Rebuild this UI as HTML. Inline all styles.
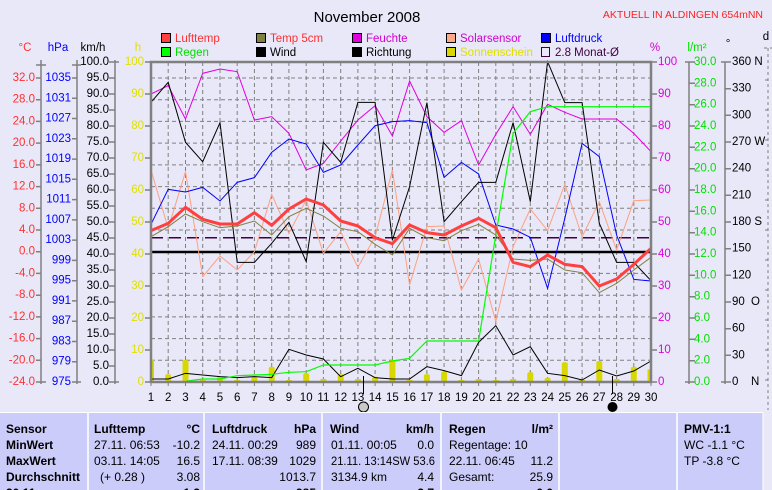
<!DOCTYPE html>
<html><head><meta charset="utf-8"><style>
html,body{margin:0;padding:0;background:#e8e8f8;}
svg{display:block;font-family:"Liberation Sans",sans-serif;}
.nss{vector-effect:non-scaling-stroke;fill:none;}
</style></head><body>
<svg width="772" height="490" viewBox="0 0 772 490" xmlns="http://www.w3.org/2000/svg">
<rect width="772" height="490" fill="#e8e8f8"/>
<text x="367" y="22" font-size="15" text-anchor="middle" fill="#000">November 2008</text>
<text x="763" y="18" font-size="10.5" text-anchor="end" fill="#ff2020">AKTUELL IN ALDINGEN 654mNN</text>

<g font-size="11.5">
<rect x="161.5" y="33.5" width="9" height="9" fill="#ff4040" stroke="#000"/><text x="175" y="42" fill="#ff3030">Lufttemp</text>
<rect x="256.5" y="33.5" width="9" height="9" fill="#808040" stroke="#000"/><text x="270" y="42" fill="#ff3030">Temp 5cm</text>
<rect x="352.5" y="33.5" width="9" height="9" fill="#e000e0" stroke="#000"/><text x="366" y="42" fill="#d000d0">Feuchte</text>
<rect x="446.5" y="33.5" width="9" height="9" fill="#ffa888" stroke="#000"/><text x="460" y="42" fill="#d000d0">Solarsensor</text>
<rect x="541.5" y="33.5" width="9" height="9" fill="#0000ff" stroke="#000"/><text x="555" y="42" fill="#0000ff">Luftdruck</text>
<rect x="161.5" y="47.5" width="9" height="9" fill="#00ff00" stroke="#000"/><text x="175" y="56" fill="#00e000">Regen</text>
<rect x="256.5" y="47.5" width="9" height="9" fill="#000" stroke="#000"/><text x="270" y="56" fill="#000">Wind</text>
<rect x="352.5" y="47.5" width="9" height="9" fill="#000" stroke="#000"/><text x="366" y="56" fill="#000">Richtung</text>
<rect x="446.5" y="47.5" width="9" height="9" fill="#d8d800" stroke="#000"/><text x="460" y="56" fill="#e0e000">Sonnenschein</text>
<rect x="541.5" y="47.5" width="8" height="9" fill="none" stroke="#400040"/><text x="555" y="56" fill="#400040">2.8 Monat-Ø</text>
</g>

<g font-size="11.5">
<text x="25" y="51" fill="#ff3030" text-anchor="middle">°C</text>
<text x="58" y="51" fill="#0000ff" text-anchor="middle">hPa</text>
<text x="93" y="51" fill="#000" text-anchor="middle">km/h</text>
<text x="138" y="51" fill="#e0e000" text-anchor="middle">h</text>
<text x="655" y="51" fill="#d000d0" text-anchor="middle">%</text>
<text x="697" y="51" fill="#00e000" text-anchor="middle">l/m²</text>
<text x="728" y="47" fill="#000" text-anchor="middle">°</text>
<text x="766" y="40" fill="#000" text-anchor="middle">d</text>
</g>

<g stroke="#808080" stroke-width="1" stroke-dasharray="4,3">
<line x1="151" y1="360.3" x2="651" y2="360.3"/><line x1="151" y1="338.6" x2="651" y2="338.6"/>
<line x1="151" y1="316.9" x2="651" y2="316.9"/><line x1="151" y1="295.2" x2="651" y2="295.2"/>
<line x1="151" y1="273.4" x2="651" y2="273.4"/><line x1="151" y1="251.7" x2="651" y2="251.7"/>
<line x1="151" y1="230" x2="651" y2="230"/><line x1="151" y1="208.3" x2="651" y2="208.3"/>
<line x1="151" y1="186.6" x2="651" y2="186.6"/><line x1="151" y1="164.9" x2="651" y2="164.9"/>
<line x1="151" y1="143.1" x2="651" y2="143.1"/><line x1="151" y1="121.4" x2="651" y2="121.4"/>
<line x1="151" y1="99.7" x2="651" y2="99.7"/><line x1="151" y1="78" x2="651" y2="78"/>
<path d="M168.2 62V382M185.5 62V382M202.7 62V382M220 62V382M237.2 62V382M254.4 62V382M271.7 62V382M288.9 62V382M306.2 62V382M323.4 62V382M340.7 62V382M357.9 62V382M375.1 62V382M392.4 62V382M409.6 62V382M426.9 62V382M444.1 62V382M461.4 62V382M478.6 62V382M495.8 62V382M513.1 62V382M530.3 62V382M547.6 62V382M564.8 62V382M582.1 62V382M599.3 62V382M616.6 62V382M633.8 62V382"/>
</g>
<path stroke="#808080" d="M151 382V386M168.2 382V386M185.5 382V386M202.7 382V386M220 382V386M237.2 382V386M254.4 382V386M271.7 382V386M288.9 382V386M306.2 382V386M323.4 382V386M340.7 382V386M357.9 382V386M375.1 382V386M392.4 382V386M409.6 382V386M426.9 382V386M444.1 382V386M461.4 382V386M478.6 382V386M495.8 382V386M513.1 382V386M530.3 382V386M547.6 382V386M564.8 382V386M582.1 382V386M599.3 382V386M616.6 382V386M633.8 382V386M651 382V386"/>

<g fill="#d8d800">
<rect x="151" y="360" width="3" height="22"/>
<rect x="165.2" y="374.3" width="6" height="8" rx="2"/>
<rect x="182.5" y="360" width="6" height="22" rx="2"/>
<rect x="199.7" y="380" width="6" height="2"/>
<rect x="217" y="376.7" width="6" height="5.3" rx="2"/>
<rect x="234.2" y="380" width="6" height="2"/>
<rect x="251.4" y="376.7" width="6" height="5.3" rx="2"/>
<rect x="268.7" y="366.7" width="6" height="15.3" rx="2"/>
<rect x="285.9" y="380" width="6" height="2"/>
<rect x="303.2" y="373.3" width="6" height="8.7" rx="2"/>
<rect x="320.4" y="379" width="6" height="3"/>
<rect x="337.7" y="374.3" width="6" height="7.7" rx="2"/>
<rect x="354.9" y="379" width="6" height="3"/>
<rect x="372.1" y="376.7" width="6" height="5.3" rx="2"/>
<rect x="389.4" y="360" width="6" height="22" rx="2"/>
<rect x="406.6" y="380" width="6" height="2"/>
<rect x="423.9" y="374.3" width="6" height="7.7" rx="2"/>
<rect x="441.1" y="371.7" width="6" height="10.3" rx="2"/>
<rect x="458.4" y="380" width="6" height="2"/>
<rect x="475.6" y="379" width="6" height="3"/>
<rect x="492.8" y="380" width="6" height="2"/>
<rect x="510.1" y="379" width="6" height="3"/>
<rect x="527.3" y="372.3" width="6" height="9.7" rx="2"/>
<rect x="544.6" y="377.7" width="6" height="4.3" rx="2"/>
<rect x="561.8" y="362.3" width="6" height="19.7" rx="2"/>
<rect x="579.1" y="380" width="6" height="2"/>
<rect x="596.3" y="361" width="6" height="21" rx="2"/>
<rect x="613.6" y="379" width="6" height="3"/>
<rect x="630.8" y="366.7" width="6" height="15.3" rx="2"/>
<rect x="647.5" y="369.3" width="3.5" height="12.7"/>
</g>

<line x1="151" y1="237.7" x2="651" y2="237.7" stroke="#400040" stroke-width="1.5" stroke-dasharray="12,6"/>
<line x1="151" y1="252" x2="651" y2="252" stroke="#000" stroke-width="2.5"/>

<g transform="translate(0,55) scale(1,0.333333)">
<polyline class="nss" stroke="#ffa080" stroke-width="1" points="151,345 168.2,520 185.5,350 202.7,665 220,603 237.2,645 254.4,590 271.7,418 288.9,535 306.2,435 323.4,595 340.7,530 357.9,637 375.1,545 392.4,345 409.6,690 426.9,515 444.1,513 461.4,705 478.6,612 495.8,800 513.1,575 530.3,462 547.6,527 564.8,388 582.1,545 599.3,440 616.6,585 633.8,437 651,435"/>
<polyline class="nss" stroke="#e000e0" stroke-width="1" points="151,117 168.2,92 185.5,192 202.7,55 220,42 237.2,50 254.4,195 271.7,185 288.9,235 306.2,345 323.4,325 340.7,258 357.9,195 375.1,152 392.4,243 409.6,78 426.9,185 444.1,232 461.4,197 478.6,330 495.8,238 513.1,155 530.3,238 547.6,148 564.8,172 582.1,192 599.3,192 616.6,192 633.8,235 651,290"/>
<polyline class="nss" stroke="#0000ff" stroke-width="1" points="151,508 168.2,403 185.5,411 202.7,397 220,438 237.2,382 254.4,368 271.7,292 288.9,252 306.2,267 323.4,352 340.7,330 357.9,270 375.1,212 392.4,200 409.6,197 426.9,203 444.1,367 461.4,322 478.6,357 495.8,510 513.1,522 530.3,547 547.6,700 564.8,490 582.1,265 599.3,305 616.6,540 633.8,673 651,678"/>
<polyline class="nss" stroke="#000" stroke-width="1" points="151,142 168.2,82 185.5,262 202.7,320 220,203 237.2,622 254.4,622 271.7,565 288.9,502 306.2,620 323.4,262 340.7,322 357.9,142 375.1,142 392.4,555 409.6,395 426.9,143 444.1,500 461.4,440 478.6,382 495.8,382 513.1,203 530.3,440 547.6,20 564.8,143 582.1,143 599.3,505 616.6,622 633.8,622 651,677"/>
<polyline class="nss" stroke="#000" stroke-width="1" points="151,972 168.2,972 185.5,955 202.7,960 220,965 237.2,968 254.4,965 271.7,968 288.9,883 306.2,900 323.4,912 340.7,965 357.9,940 375.1,968 392.4,972 409.6,972 426.9,935 444.1,947 461.4,962 478.6,862 495.8,812 513.1,900 530.3,875 547.6,955 564.8,962 582.1,975 599.3,945 616.6,963 633.8,948 651,918"/>
<polyline class="nss" stroke="#00ff00" stroke-width="1.2" points="187,978 202.7,972 220,972 237.2,962 254.4,960 271.7,958 288.9,952 306.2,950 323.4,930 340.7,930 357.9,930 375.1,930 392.4,918 409.6,910 426.9,858 444.1,858 461.4,858 478.6,858 495.8,540 513.1,235 530.3,170 547.6,155 564.8,155 582.1,155 599.3,155 616.6,155 633.8,155 651,155"/>
<polyline class="nss" stroke="#808040" stroke-width="1" points="151,545 168.2,515 185.5,477 202.7,500 220,518 237.2,513 254.4,498 271.7,540 288.9,485 306.2,460 323.4,483 340.7,520 357.9,530 375.1,568 392.4,600 409.6,520 426.9,548 444.1,557 461.4,527 478.6,508 495.8,540 513.1,612 530.3,616 547.6,612 564.8,645 582.1,653 599.3,713 616.6,685 633.8,645 651,607"/>
<polyline class="nss" stroke="#ff4040" stroke-width="3" stroke-linejoin="round" points="151,527 168.2,505 185.5,457 202.7,493 220,507 237.2,507 254.4,473 271.7,511 288.9,462 306.2,432 323.4,450 340.7,498 357.9,513 375.1,548 392.4,566 409.6,510 426.9,533 444.1,540 461.4,513 478.6,490 495.8,518 513.1,622 530.3,635 547.6,600 564.8,628 582.1,635 599.3,693 616.6,672 633.8,628 651,580"/>
</g>

<rect x="151" y="62" width="500" height="320" fill="none" stroke="#808080" stroke-width="2.5"/>

<g stroke="#808080" stroke-width="1.5" fill="none">
<path d="M41 60V384M77 60V384M115 60V384"/>
<path d="M36 65H46M36 78H41M36 99.7H41M36 121.4H41M36 143.1H41M36 164.9H41M36 186.6H41M36 208.3H41M36 230H41M36 251.7H41M36 273.4H41M36 295.2H41M36 316.9H41M36 338.6H41M36 360.3H41M36 382H46"/>
<path d="M72 65H81M72 78H77M72 98.3H77M72 118.5H77M72 138.8H77M72 159.1H77M72 179.3H77M72 199.6H77M72 219.9H77M72 240.1H77M72 260.4H77M72 280.7H77M72 300.9H77M72 321.2H77M72 341.5H77M72 361.7H77M72 382H81"/>
<path d="M109 62H119M109 78H115M109 94H115M109 110H115M109 126H115M109 142H115M109 158H115M109 174H115M109 190H115M109 206H115M109 222H115M109 238H115M109 254H115M109 270H115M109 286H115M109 302H115M109 318H115M109 334H115M109 350H115M109 366H115M109 382H119"/>
<path d="M145 62H151M145 94H151M145 126H151M145 158H151M145 190H151M145 222H151M145 254H151M145 286H151M145 318H151M145 350H151M145 382H151"/>
<path d="M651 62H657M651 94H657M651 126H657M651 158H657M651 190H657M651 222H657M651 254H657M651 286H657M651 318H657M651 350H657M651 382H657"/>
<path d="M689 62V384M725 62V384"/>
<path d="M685 62H695M689 83.3H695M689 104.7H695M689 126H695M689 147.3H695M689 168.7H695M689 190H695M689 211.3H695M689 232.7H695M689 254H695M689 275.3H695M689 296.7H695M689 318H695M689 339.3H695M689 360.7H695M685 382H695"/>
<path d="M721 62H731M725 88.7H731M725 115.3H731M725 142H731M725 168.7H731M725 195.3H731M725 222H731M725 248.7H731M725 275.3H731M725 302H731M725 328.7H731M725 355.3H731M721 382H731"/>
</g>
<path d="M768 48V410M764 48H772M765 80H768M765 110H768M765 140H768M765 170H768M765 200H768M765 230H768M765 260H768M765 290H768M765 320H768M765 350H768M765 380H768" stroke="#808080" stroke-width="1" stroke-dasharray="3,3" fill="none"/>

<g font-size="11.5" dominant-baseline="central">
<g fill="#ff3030" text-anchor="end">
<text x="35" y="78">32.0</text><text x="35" y="99.7">28.0</text><text x="35" y="121.4">24.0</text><text x="35" y="143.1">20.0</text><text x="35" y="164.9">16.0</text><text x="35" y="186.6">12.0</text><text x="35" y="208.3">8.0</text><text x="35" y="230">4.0</text><text x="35" y="251.7">0.0</text><text x="35" y="273.4">-4.0</text><text x="35" y="295.2">-8.0</text><text x="35" y="316.9">-12.0</text><text x="35" y="338.6">-16.0</text><text x="35" y="360.3">-20.0</text><text x="35" y="382">-24.0</text>
</g>
<g fill="#0000ff" text-anchor="end">
<text x="71" y="78">1035</text><text x="71" y="98.3">1031</text><text x="71" y="118.5">1027</text><text x="71" y="138.8">1023</text><text x="71" y="159.1">1019</text><text x="71" y="179.3">1015</text><text x="71" y="199.6">1011</text><text x="71" y="219.9">1007</text><text x="71" y="240.1">1003</text><text x="71" y="260.4">999</text><text x="71" y="280.7">995</text><text x="71" y="300.9">991</text><text x="71" y="321.2">987</text><text x="71" y="341.5">983</text><text x="71" y="361.7">979</text><text x="71" y="382">975</text>
</g>
<g fill="#000" text-anchor="end">
<text x="109" y="62">100.0</text><text x="109" y="78">95.0</text><text x="109" y="94">90.0</text><text x="109" y="110">85.0</text><text x="109" y="126">80.0</text><text x="109" y="142">75.0</text><text x="109" y="158">70.0</text><text x="109" y="174">65.0</text><text x="109" y="190">60.0</text><text x="109" y="206">55.0</text><text x="109" y="222">50.0</text><text x="109" y="238">45.0</text><text x="109" y="254">40.0</text><text x="109" y="270">35.0</text><text x="109" y="286">30.0</text><text x="109" y="302">25.0</text><text x="109" y="318">20.0</text><text x="109" y="334">15.0</text><text x="109" y="350">10.0</text><text x="109" y="366">5.0</text><text x="109" y="382">0.0</text>
</g>
<g fill="#e0e000" text-anchor="end">
<text x="144" y="62">100</text><text x="144" y="94">90</text><text x="144" y="126">80</text><text x="144" y="158">70</text><text x="144" y="190">60</text><text x="144" y="222">50</text><text x="144" y="254">40</text><text x="144" y="286">30</text><text x="144" y="318">20</text><text x="144" y="350">10</text><text x="144" y="382">0</text>
</g>
<g fill="#e000e0">
<text x="658" y="62">100</text><text x="658" y="94">90</text><text x="658" y="126">80</text><text x="658" y="158">70</text><text x="658" y="190">60</text><text x="658" y="222">50</text><text x="658" y="254">40</text><text x="658" y="286">30</text><text x="658" y="318">20</text><text x="658" y="350">10</text><text x="658" y="382">0</text>
</g>
<g fill="#00e000">
<text x="694" y="62">30.0</text><text x="694" y="83.3">28.0</text><text x="694" y="104.7">26.0</text><text x="694" y="126">24.0</text><text x="694" y="147.3">22.0</text><text x="694" y="168.7">20.0</text><text x="694" y="190">18.0</text><text x="694" y="211.3">16.0</text><text x="694" y="232.7">14.0</text><text x="694" y="254">12.0</text><text x="694" y="275.3">10.0</text><text x="694" y="296.7">8.0</text><text x="694" y="318">6.0</text><text x="694" y="339.3">4.0</text><text x="694" y="360.7">2.0</text><text x="694" y="382">0.0</text>
</g>
<g fill="#000">
<text x="732" y="62">360 N</text><text x="732" y="88.7">330</text><text x="732" y="115.3">300</text><text x="732" y="142">270 W</text><text x="732" y="168.7">240</text><text x="732" y="195.3">210</text><text x="732" y="222">180 S</text><text x="732" y="248.7">150</text><text x="732" y="275.3">120</text><text x="732" y="302">90</text><text x="751" y="302">O</text><text x="732" y="328.7">60</text><text x="732" y="355.3">30</text><text x="732" y="382">0</text><text x="751" y="382">N</text>
</g>
</g>

<g font-size="11.5" text-anchor="middle" fill="#000">
<text x="151" y="401">1</text><text x="168.2" y="401">2</text><text x="185.5" y="401">3</text><text x="202.7" y="401">4</text><text x="220" y="401">5</text><text x="237.2" y="401">6</text><text x="254.4" y="401">7</text><text x="271.7" y="401">8</text><text x="288.9" y="401">9</text><text x="306.2" y="401">10</text><text x="323.4" y="401">11</text><text x="340.7" y="401">12</text><text x="357.9" y="401">13</text><text x="375.1" y="401">14</text><text x="392.4" y="401">15</text><text x="409.6" y="401">16</text><text x="426.9" y="401">17</text><text x="444.1" y="401">18</text><text x="461.4" y="401">19</text><text x="478.6" y="401">20</text><text x="495.8" y="401">21</text><text x="513.1" y="401">22</text><text x="530.3" y="401">23</text><text x="547.6" y="401">24</text><text x="564.8" y="401">25</text><text x="582.1" y="401">26</text><text x="599.3" y="401">27</text><text x="616.6" y="401">28</text><text x="633.8" y="401">29</text><text x="651" y="401">30</text>
</g>
<path d="M363.5 376V394M612.5 376V394" stroke="#000" stroke-width="1"/>
<circle cx="363.5" cy="407" r="5" fill="#c8c8c8" stroke="#000" stroke-width="1"/>
<circle cx="612.5" cy="407" r="5" fill="#000"/>

<g fill="#ccccfa">
<rect x="0" y="413" width="87" height="77"/>
<rect x="89" y="413" width="114" height="77"/>
<rect x="205" y="413" width="116" height="77"/>
<rect x="323" y="413" width="117" height="77"/>
<rect x="442" y="413" width="116" height="77"/>
<rect x="560" y="413" width="116" height="77"/>
<rect x="678" y="413" width="85" height="77"/>
</g>
<path d="M0 412.5H763M88 413V490M204 413V490M322 413V490M441 413V490M559 413V490M677 413V490M763 413V490" stroke="#ffffff" stroke-width="1"/>
<g font-size="12" fill="#000">
<g font-weight="bold">
<text x="6" y="433">Sensor</text><text x="6" y="449">MinWert</text><text x="6" y="465">MaxWert</text><text x="6" y="481">Durchschnitt</text><text x="6" y="497">30.11.</text>
<text x="94" y="433">Lufttemp</text><text x="200" y="433" text-anchor="end">°C</text>
<text x="212" y="433">Luftdruck</text><text x="316" y="433" text-anchor="end">hPa</text>
<text x="330" y="433">Wind</text><text x="434" y="433" text-anchor="end">km/h</text>
<text x="449" y="433">Regen</text><text x="553" y="433" text-anchor="end">l/m²</text>
<text x="684" y="433">PMV-1:1</text>
<text x="200" y="497" text-anchor="end">1.3</text><text x="316" y="497" text-anchor="end">985</text><text x="434" y="497" text-anchor="end">3.7</text><text x="553" y="497" text-anchor="end">0.0</text>
</g>
<text x="94" y="449">27.11.  06:53</text><text x="200" y="449" text-anchor="end">-10.2</text>
<text x="94" y="465">03.11.  14:05</text><text x="200" y="465" text-anchor="end">16.5</text>
<text x="100" y="481">(+ 0.28 )</text><text x="200" y="481" text-anchor="end">3.08</text>
<text x="212" y="449">24.11.  00:29</text><text x="316" y="449" text-anchor="end">989</text>
<text x="212" y="465">17.11.  08:39</text><text x="316" y="465" text-anchor="end">1029</text>
<text x="316" y="481" text-anchor="end">1013.7</text>
<text x="331" y="449">01.11.  00:05</text><text x="434" y="449" text-anchor="end">0.0</text>
<text x="331" y="465" textLength="104" lengthAdjust="spacingAndGlyphs">21.11.  13:14SW 53.6</text>
<text x="331" y="481">3134.9 km</text><text x="434" y="481" text-anchor="end">4.4</text>
<text x="449" y="449">Regentage: 10</text>
<text x="449" y="465">22.11.  06:45</text><text x="553" y="465" text-anchor="end">11.2</text>
<text x="449" y="481">Gesamt:</text><text x="553" y="481" text-anchor="end">25.9</text>
<text x="684" y="449">WC -1.1 °C</text>
<text x="684" y="465">TP -3.8 °C</text>
</g>
</svg>
</body></html>
